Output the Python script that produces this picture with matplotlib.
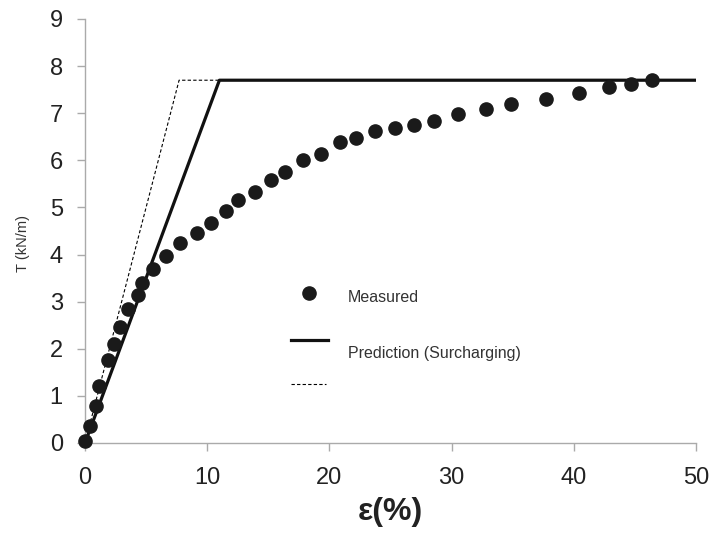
import matplotlib
matplotlib.use("Agg")
import matplotlib.pyplot as plt
from matplotlib.transforms import Bbox, TransformedBbox

plt.rcParams['font.family'] = ['Liberation Sans', 'DejaVu Sans']

# measured points
strain = [0.0, 0.4, 0.9, 1.15, 1.9, 2.4, 2.9, 3.5, 4.3, 4.7, 5.6, 6.6, 7.8,
          9.2, 10.3, 11.5, 12.5, 13.9, 15.2, 16.4, 17.8, 19.3, 20.9, 22.2,
          23.7, 25.4, 26.9, 28.6, 30.5, 32.8, 34.9, 37.7, 40.4, 42.9, 44.7, 46.4]
tension = [0.05, 0.37, 0.79, 1.22, 1.76, 2.1, 2.47, 2.84, 3.14, 3.4, 3.7, 3.97,
           4.24, 4.46, 4.67, 4.93, 5.16, 5.33, 5.58, 5.75, 6.0, 6.13, 6.39, 6.48,
           6.62, 6.69, 6.75, 6.84, 6.98, 7.09, 7.2, 7.3, 7.43, 7.56, 7.62, 7.71]

# predictions
pred_surch_x = [0, 11.0, 50]
pred_surch_y = [0, 7.7, 7.7]
pred_other_x = [0, 7.7, 11.0]
pred_other_y = [0, 7.7, 7.7]

labels = ["Measured", "Prediction (Surcharging)", "Prediction (Surcharging)"]

fig = plt.figure(figsize=(7.1, 5.33), dpi=100)
ax = fig.add_axes([0.1197, 0.1689, 0.8606, 0.7955])

ax.plot(pred_other_x, pred_other_y, color="black", lw=0.8, ls=(0, (3, 2)))
ax.plot(pred_surch_x, pred_surch_y, color="#111111", lw=2.3, solid_capstyle="butt")
ax.plot(strain, tension, ls="", marker="o", ms=9.5, color="#1a1a1a", clip_on=False, zorder=3)

ax.set_xlim(0, 50)
ax.set_ylim(0, 9)
ax.set_xticks(range(0, 51, 10))
ax.set_yticks(range(0, 10))
for s in ["top", "right"]:
    ax.spines[s].set_visible(False)
for s in ["left", "bottom"]:
    ax.spines[s].set_color("#aaaaaa")
    ax.spines[s].set_linewidth(1.0)
ax.tick_params(colors="#aaaaaa", labelcolor="#222222", labelsize=17, length=6, width=1.0)
ax.tick_params(axis="x", pad=11)
ax.tick_params(axis="y", pad=10)

ax.set_xlabel("ε(%)", fontsize=23, fontweight="bold", color="#222222", labelpad=6)
ax.set_ylabel("T (kN/m)", fontsize=10.5, color="#333333", labelpad=12)
ax.yaxis.set_label_coords(-0.09, 0.47)

# legend drawn by hand (third entry's text is cut off, as in the source)
tr = ax.transAxes
ax.plot([0.3666], [0.354], marker="o", ms=9.5, color="#1a1a1a", transform=tr, clip_on=False)
ax.text(0.430, 0.342, labels[0], transform=tr, fontsize=11.5, color="#333333", va="center")
ax.plot([0.337, 0.398], [0.243, 0.243], color="#111111", lw=2.3, transform=tr, clip_on=False)
ax.text(0.430, 0.212, labels[1], transform=tr, fontsize=11.5, color="#333333", va="center")
ax.plot([0.337, 0.394], [0.139, 0.139], color="black", lw=0.8, ls=(0, (3, 2)), transform=tr, clip_on=False)
t3 = ax.text(0.430, 0.080, labels[2], transform=tr, fontsize=11.5, color="#333333", va="center")
t3.set_clip_box(TransformedBbox(Bbox([[0, 0.0975], [1, 1]]), tr))
t3.set_clip_on(True)

fig.savefig("out.png", dpi=100)
